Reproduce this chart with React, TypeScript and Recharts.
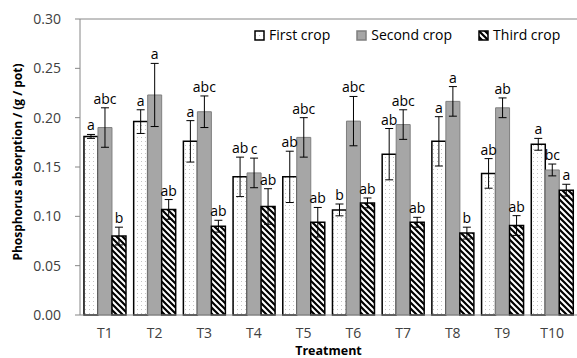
import React from "react";
import {
  BarChart,
  Bar,
  XAxis,
  YAxis,
  ErrorBar,
  LabelList,
  ReferenceLine,
} from "recharts";

const categories = ["T1", "T2", "T3", "T4", "T5", "T6", "T7", "T8", "T9", "T10"];

const firstCrop = [0.181, 0.196, 0.176, 0.14, 0.14, 0.1065, 0.163, 0.176, 0.1435, 0.173];
const firstErr = [0.002, 0.012, 0.021, 0.02, 0.026, 0.006, 0.026, 0.025, 0.015, 0.006];
const firstLetters = ["a", "a", "a", "ab", "ab", "b", "ab", "a", "ab", "a"];

const secondCrop = [0.19, 0.223, 0.206, 0.144, 0.18, 0.1965, 0.193, 0.2165, 0.21, 0.147];
const secondErr = [0.02, 0.032, 0.016, 0.015, 0.02, 0.025, 0.015, 0.015, 0.01, 0.006];
const secondLetters = ["abc", "a", "abc", "c", "abc", "abc", "abc", "a", "ab", "bc"];

const thirdCrop = [0.08, 0.107, 0.09, 0.11, 0.094, 0.1136, 0.094, 0.083, 0.0907, 0.1265];
const thirdErr = [0.009, 0.01, 0.006, 0.018, 0.015, 0.005, 0.005, 0.006, 0.01, 0.006];
const thirdLetters = ["b", "ab", "ab", "ab", "ab", "ab", "ab", "b", "ab", "a"];

const yTicks = [0, 0.05, 0.1, 0.15, 0.2, 0.25, 0.3];

const data = categories.map((name, i) => ({
  name,
  first: firstCrop[i],
  firstErr: firstErr[i],
  second: secondCrop[i],
  secondErr: secondErr[i],
  third: thirdCrop[i],
  thirdErr: thirdErr[i],
}));

const FONT = "'Open Sans', sans-serif";
const AXIS_GRAY = "#868686";

// letter above the error bar cap
function letterContent(values: number[], errs: number[], letters: string[]) {
  return (props: any) => {
    const { x, y, width, height, index } = props;
    const v = values[index];
    const perUnit = height / v;
    const top = y - errs[index] * perUnit;
    return (
      <text
        x={x + width / 2}
        y={top - 4}
        textAnchor="middle"
        fontSize={14}
        fontFamily={FONT}
        fill="#000"
      >
        {letters[index]}
      </text>
    );
  };
}

const legendItems = [
  { label: "First crop", fill: "url(#dots)", stroke: "#000" },
  { label: "Second crop", fill: "#a6a6a6", stroke: "#7f7f7f" },
  { label: "Third crop", fill: "url(#hatch)", stroke: "#000" },
];

function ChartLegend() {
  return (
    <div
      style={{
        position: "absolute",
        left: 254,
        top: 25,
        display: "flex",
        gap: 26,
        fontFamily: FONT,
        fontSize: 14,
        lineHeight: "20px",
        color: "#000",
      }}
    >
      {legendItems.map((it) => (
        <div key={it.label} style={{ display: "flex", alignItems: "center", gap: 4 }}>
          <svg width={11} height={11}>
            <rect x={1} y={1} width={9} height={9} fill={it.fill} stroke={it.stroke} strokeWidth={1.5} />
          </svg>
          <span>{it.label}</span>
        </div>
      ))}
    </div>
  );
}

function YLabel(props: any) {
  const { viewBox } = props;
  const cx = 17;
  const cy = viewBox.y + viewBox.height / 2 - 5;
  return (
    <text
      x={cx}
      y={cy}
      transform={`rotate(-90, ${cx}, ${cy})`}
      textAnchor="middle"
      dominantBaseline="central"
      fontSize={12}
      fontWeight="bold"
      fontFamily={FONT}
      fill="#000"
    >
      Phosphorus absorption / (g / pot)
    </text>
  );
}

function XLabel(props: any) {
  const { viewBox } = props;
  return (
    <text
      x={viewBox.x + viewBox.width / 2}
      y={viewBox.y + viewBox.height - 3.5}
      textAnchor="middle"
      fontSize={12.5}
      fontWeight="bold"
      fontFamily={FONT}
      fill="#000"
    >
      Treatment
    </text>
  );
}

export default function App() {
  return (
    <div style={{ position: "absolute", left: 0, top: 0, width: 577, height: 358, background: "#fff" }}>
      <svg width={0} height={0} style={{ position: "absolute" }}>
        <defs>
          <pattern id="dots" width={4} height={4} patternUnits="userSpaceOnUse">
            <rect width={4} height={4} fill="#fff" />
            <rect x={1} y={1} width={1} height={1} fill="#c4c4c4" />
          </pattern>
          <pattern id="hatch" width={6} height={6} patternUnits="userSpaceOnUse">
            <rect width={6} height={6} fill="#fff" />
            <path d="M0,0 L6,6 M-1,5 L1,7 M5,-1 L7,1" stroke="#000" strokeWidth={2.2} />
          </pattern>
        </defs>
      </svg>
      <BarChart
        width={577}
        height={358}
        data={data}
        margin={{ top: 19, right: 0, left: 0, bottom: 0 }}
        barCategoryGap="8%"
        barGap={0}
      >
        <XAxis
          dataKey="name"
          height={43}
          tickLine={false}
          tickSize={0}
          tickMargin={13}
          axisLine={{ stroke: AXIS_GRAY }}
          tick={{ fontSize: 14, fontFamily: FONT, fill: "#404040" }}
          label={<XLabel />}
        />
        <YAxis
          width={80}
          domain={[0, 0.3]}
          ticks={yTicks}
          tickFormatter={(v: number) => v.toFixed(2)}
          tickSize={5}
          tickMargin={14}
          tickLine={{ stroke: AXIS_GRAY }}
          axisLine={{ stroke: AXIS_GRAY }}
          tick={{ fontSize: 14, fontFamily: FONT, fill: "#404040" }}
          label={<YLabel />}
        />
        <ReferenceLine y={0.3} stroke={AXIS_GRAY} />
        <Bar dataKey="first" fill="url(#dots)" stroke="#000" strokeWidth={1.5} isAnimationActive={false}>
          <ErrorBar dataKey="firstErr" width={4} stroke="#000" strokeWidth={1} />
          <LabelList dataKey="first" content={letterContent(firstCrop, firstErr, firstLetters)} />
        </Bar>
        <Bar dataKey="second" fill="#a6a6a6" stroke="#7f7f7f" strokeWidth={1} isAnimationActive={false}>
          <ErrorBar dataKey="secondErr" width={4} stroke="#000" strokeWidth={1} />
          <LabelList dataKey="second" content={letterContent(secondCrop, secondErr, secondLetters)} />
        </Bar>
        <Bar dataKey="third" fill="url(#hatch)" stroke="#000" strokeWidth={1.5} isAnimationActive={false}>
          <ErrorBar dataKey="thirdErr" width={4} stroke="#000" strokeWidth={1} />
          <LabelList dataKey="third" content={letterContent(thirdCrop, thirdErr, thirdLetters)} />
        </Bar>
      </BarChart>
      <ChartLegend />
    </div>
  );
}
